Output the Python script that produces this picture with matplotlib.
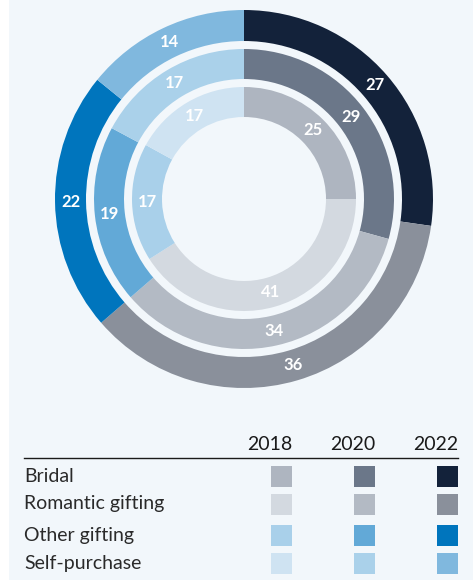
import numpy as np
import matplotlib.pyplot as plt
from matplotlib.patches import Rectangle

# share of diamond jewellery purchases by occasion (%)
years = ["2018", "2020", "2022"]
occasions = ["Bridal", "Romantic gifting", "Other gifting", "Self-purchase"]
share_2018 = [25, 41, 17, 17]
share_2020 = [29, 34, 19, 17]
share_2022 = [27, 36, 22, 14]

colors_2018 = ["#aeb5c0", "#d3d9e0", "#a9d0ea", "#cfe3f2"]
colors_2020 = ["#6b7789", "#b3bac4", "#62a9d7", "#aad1ea"]
colors_2022 = ["#13223a", "#8a909b", "#0075bd", "#80b8de"]

W, H = 473, 582
bg = "#f2f7fb"
plt.rcParams['font.family'] = ['Lato', 'DejaVu Sans']

fig = plt.figure(figsize=(W / 100, H / 100), dpi=100, facecolor="white")

# background panel + legend table, drawn in pixel coordinates
base = fig.add_axes([0, 0, 1, 1], zorder=0)
base.set_xlim(0, W)
base.set_ylim(H, 0)
base.axis("off")
base.add_patch(Rectangle((9, 0), W - 9, 580, color=bg, lw=0))

# donut rings, outer = 2022, inner = 2018
cx, cy, R = 244, 199, 189
ax = fig.add_axes([(cx - R) / W, (H - cy - R) / H, 2 * R / W, 2 * R / H], zorder=1)
ax.set_facecolor("none")
rings = [
    (share_2022, colors_2022, 189, 31),
    (share_2020, colors_2020, 150, 30),
    (share_2018, colors_2018, 112, 30),
]
for vals, cols, r, w in rings:
    wedges, _ = ax.pie(vals, colors=cols, radius=r / R, startangle=90,
                       counterclock=False,
                       wedgeprops=dict(width=w / R, linewidth=0))
    rmid = (r - w / 2) / R
    for wd, v in zip(wedges, vals):
        ang = np.deg2rad((wd.theta1 + wd.theta2) / 2)
        ax.text(rmid * np.cos(ang), rmid * np.sin(ang), str(v),
                color="white", fontsize=12, fontweight="bold",
                ha="center", va="center")
ax.set_xlim(-1, 1)
ax.set_ylim(-1, 1)
ax.set_aspect("equal")
ax.axis("off")

# legend table
header_right = [292, 375, 458]
for yr, xr in zip(years, header_right):
    base.text(xr, 444, yr, fontsize=14, ha="right", va="center", color="#1a1a1a")
base.plot([24, 458], [458, 458], color="#1a1a1a", lw=1)

row_y = [476, 504, 535, 563]
for i, (name, ry) in enumerate(zip(occasions, row_y)):
    base.text(24, ry, name, fontsize=14, ha="left", va="center", color="#2a2a2a")
    for cols, xr in zip([colors_2018, colors_2020, colors_2022], header_right):
        base.add_patch(Rectangle((xr - 21, ry - 10.5), 21, 21, color=cols[i], lw=0))

fig.savefig("out.png", dpi=100, facecolor="white")
